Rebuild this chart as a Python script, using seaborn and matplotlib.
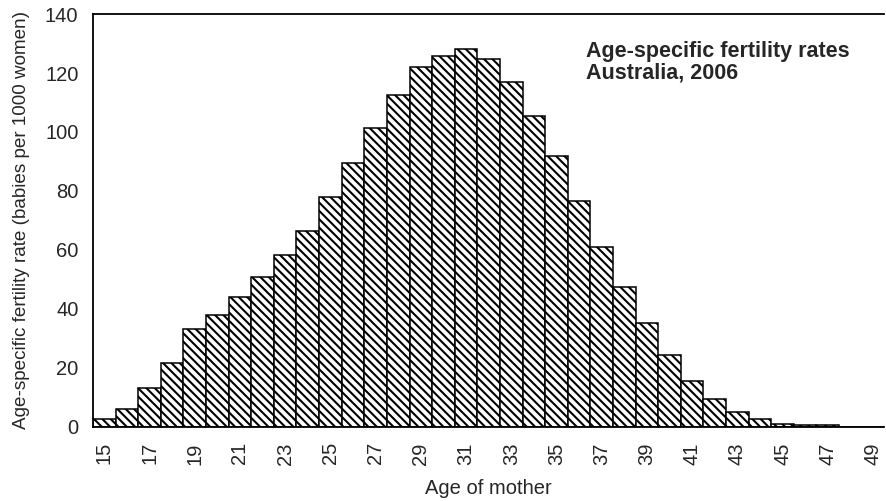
import numpy as np
import pandas as pd
import matplotlib
matplotlib.use("Agg")
import matplotlib.pyplot as plt
import seaborn as sns

# Age-specific fertility rates, Australia 2006
ages = list(range(15, 50))
rates = [2.6, 6.0, 13.3, 21.6, 33.1, 38.0, 44.1, 50.9, 58.2, 66.5,
         78.0, 89.6, 101.2, 112.6, 122.2, 125.6, 128.3, 124.9, 116.9, 105.3,
         91.7, 76.7, 61.1, 47.5, 35.3, 24.3, 15.6, 9.4, 5.2, 2.6,
         1.1, 0.5, 0.5, 0.1, 0.05]
y_ticks = [0, 20, 40, 60, 80, 100, 120, 140]

df = pd.DataFrame({"age": ages, "rate": rates})

sns.set_style("white")
plt.rcParams["font.family"] = ["Liberation Sans", "DejaVu Sans"]
plt.rcParams["hatch.linewidth"] = 1.5

fig = plt.figure(figsize=(8.86, 5.01), dpi=100)
ax = fig.add_axes([0.105, 0.148, 0.893, 0.824])

sns.barplot(data=df, x="age", y="rate", ax=ax, width=1.0, color="white",
            edgecolor="black", linewidth=1.1, hatch="\\\\\\\\")

ax.set_xlim(-0.5, len(ages) - 0.5)
ax.set_ylim(0, 140)
ax.set_yticks(y_ticks)
ax.set_yticklabels([str(v) for v in y_ticks], fontsize=14.5)

# tick marks on category boundaries, labels on every other bar
ax.set_xticks(np.arange(-0.5, len(ages), 1.0))
ax.set_xticklabels([])
label_pos = [i for i, a in enumerate(ages) if a % 2 == 1]
ax.set_xticks(label_pos, minor=True)
ax.set_xticklabels([str(ages[i]) for i in label_pos], minor=True,
                   rotation=90, fontsize=14.5)
ax.tick_params(axis="x", which="major", direction="out", length=5, width=1, color="black")
ax.tick_params(axis="x", which="minor", length=0, pad=11)
ax.tick_params(axis="y", direction="out", length=5, width=1, color="black", pad=5.5)

for side in ["left", "top", "bottom"]:
    ax.spines[side].set_color("black")
    ax.spines[side].set_linewidth(1.3)
ax.spines["right"].set_visible(False)

ax.set_xlabel("Age of mother", fontsize=14.5, labelpad=10)
ax.set_ylabel("Age-specific fertility rate (babies per 1000 women)", fontsize=13.6, labelpad=11)

ax.text(0.623, 0.935, "Age-specific fertility rates\nAustralia, 2006",
        transform=ax.transAxes, fontsize=15.5, fontweight="bold",
        ha="left", va="top", linespacing=1.05)

fig.savefig("out.png", dpi=100)
